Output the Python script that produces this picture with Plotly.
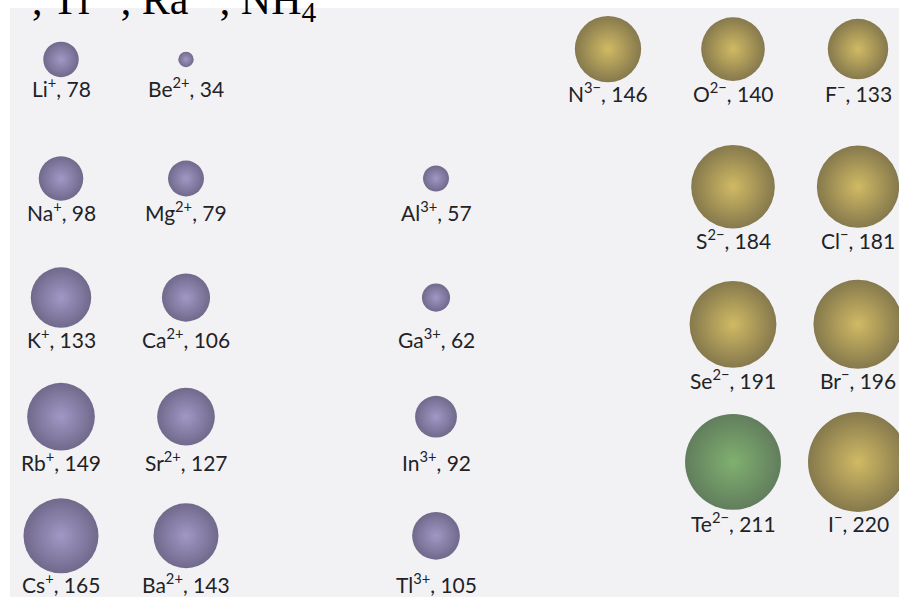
import plotly.graph_objects as go

# ionic radii (pm)
cation_symbols = ['Li', 'Na', 'K', 'Rb', 'Cs', 'Be', 'Mg', 'Ca', 'Sr', 'Ba', 'Al', 'Ga', 'In', 'Tl']
cation_charges = ['+', '+', '+', '+', '+', '2+', '2+', '2+', '2+', '2+', '3+', '3+', '3+', '3+']
cation_groups = ['IA', 'IA', 'IA', 'IA', 'IA', 'IIA', 'IIA', 'IIA', 'IIA', 'IIA',
                 'IIIA', 'IIIA', 'IIIA', 'IIIA']
cation_periods = [2, 3, 4, 5, 6, 2, 3, 4, 5, 6, 3, 4, 5, 6]
cation_radii = [78, 98, 133, 149, 165, 34, 79, 106, 127, 143, 57, 62, 92, 105]

anion_symbols = ['N', 'O', 'S', 'Se', 'Te', 'F', 'Cl', 'Br', 'I']
anion_charges = ['3−', '2−', '2−', '2−', '2−', '−', '−', '−', '−']
anion_groups = [15, 16, 16, 16, 16, 17, 17, 17, 17]
anion_periods = [2, 2, 3, 4, 5, 2, 3, 4, 5]
anion_radii = [146, 140, 184, 191, 211, 133, 181, 196, 220]

group_order = ['IA', 'IIA', 'B', 'IIIA']

W, H = 899, 597
SIZEREF = 2.2          # pm per pixel of sphere diameter
LABEL_GAP = 10

# radial gradient: marker color = rim, gradient color = centre
purple = dict(color='#3a2f5e', gradient=dict(type='radial', color='#7f71b2'))
gold = dict(color='#574505', gradient=dict(type='radial', color='#c2a226'))
green = dict(color='#244c1c', gradient=dict(type='radial', color='#4f9436'))

fig = go.Figure()

fig.add_trace(go.Scatter(
    x=cation_groups, y=cation_periods, mode='markers',
    marker=dict(size=cation_radii, sizemode='diameter', sizeref=SIZEREF,
                line=dict(width=0), **purple),
    xaxis='x', yaxis='y', hoverinfo='skip', showlegend=False,
))

anion_styles = [green if s == 'Te' else gold for s in anion_symbols]
for style in [gold, green]:
    idx = [i for i, st in enumerate(anion_styles) if st is style]
    fig.add_trace(go.Scatter(
        x=[anion_groups[i] for i in idx], y=[anion_periods[i] for i in idx],
        mode='markers',
        marker=dict(size=[anion_radii[i] for i in idx], sizemode='diameter',
                    sizeref=SIZEREF, line=dict(width=0), **style),
        xaxis='x2', yaxis='y2', hoverinfo='skip', showlegend=False,
    ))

label_font = dict(family='Lato', size=21, color='#222226')


def add_labels(symbols, charges, groups, periods, radii, xref, yref):
    row_max = {}
    for p, r in zip(periods, radii):
        row_max[p] = max(row_max.get(p, 0), r)
    for s, c, g, p, r in zip(symbols, charges, groups, periods, radii):
        fig.add_annotation(
            x=g, y=p, xref=xref, yref=yref,
            text=f'{s}<sup>{c}</sup>, {r}',
            showarrow=False, font=label_font,
            xanchor='center', yanchor='middle',
            yshift=-(row_max[p] / SIZEREF / 2 + LABEL_GAP),
        )


add_labels(cation_symbols, cation_charges, cation_groups, cation_periods,
           cation_radii, 'x', 'y')
add_labels(anion_symbols, anion_charges, anion_groups, anion_periods,
           anion_radii, 'x2', 'y2')

# cropped heading from the page above
fig.add_annotation(
    x=30 / W, y=1 - 30 / H, xref='paper', yref='paper',
    text=', Tl<sup>3+</sup>, Ra<sup>2+</sup>, NH<sub>4</sub><sup>+</sup>',
    showarrow=False, xanchor='left', yanchor='bottom',
    font=dict(family='Liberation Serif', size=42, color='#000000'),
)

# scanned page area
fig.add_shape(type='rect', xref='paper', yref='paper',
              x0=10 / W, x1=1, y0=0, y1=1 - 8 / H,
              fillcolor='#f2f2f5', line=dict(width=0), layer='below')

hidden = dict(visible=False, showgrid=False, zeroline=False, fixedrange=True)

fig.update_layout(
    width=W, height=H,
    margin=dict(l=0, r=0, t=0, b=0),
    paper_bgcolor='white', plot_bgcolor='rgba(0,0,0,0)',
    xaxis=dict(type='category', categoryorder='array', categoryarray=group_order,
               range=[-61 / 125, (W - 61) / 125], domain=[0, 1], **hidden),
    yaxis=dict(range=[4 + (H - 297.6) / 119.1, 4 - 297.6 / 119.1], domain=[0, 1], **hidden),
    xaxis2=dict(range=[16 - 733 / 125, 16 + (W - 733) / 125], overlaying='x',
                domain=[0, 1], **hidden),
    yaxis2=dict(range=[3.5 + (H - 255.5) / 137.6, 3.5 - 255.5 / 137.6], overlaying='y',
                domain=[0, 1], **hidden),
)

fig.write_html('out.html', config={'displayModeBar': False},
               post_script="document.body.style.margin='0';")
